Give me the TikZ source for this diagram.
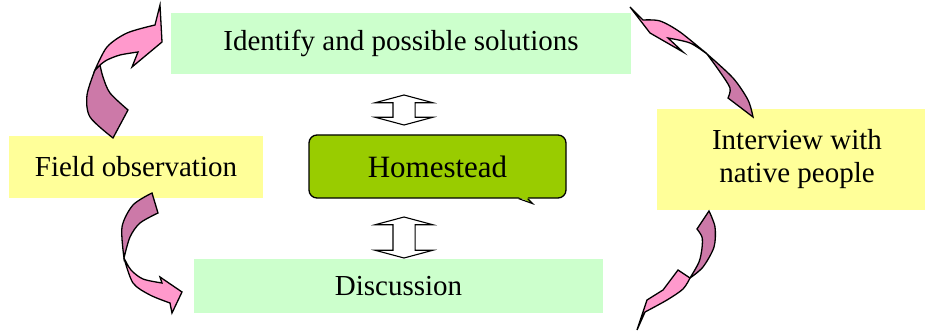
\documentclass[tikz,border=0pt]{standalone}
\usepackage{fontspec}
\setmainfont{Liberation Serif}
\usetikzlibrary{shapes.arrows,calc,positioning}

\definecolor{mintbox}{HTML}{CCFFCC}
\definecolor{creambox}{HTML}{FFFF99}
\definecolor{homegreen}{HTML}{99CC00}
\definecolor{arrowpink}{HTML}{FF99CC}
\definecolor{arrowplum}{HTML}{CC79A8}

\begin{document}
\begin{tikzpicture}[x=1pt,y=-1pt,
		stagebox/.style={inner sep=0pt, align=center, font=\fontsize{29}{33}\selectfont},
		pinkpart/.style={fill=arrowpink, draw=black, line width=1.3pt},
		plumpart/.style={fill=arrowplum, draw=black, line width=1.3pt},
		updown/.style={double arrow, draw, fill=white, rotate=90, inner xsep=0pt, inner ysep=10.5pt,
			minimum width=0pt, double arrow head extend=18, double arrow tip angle=150,
			line width=1.1pt}]
		
		\useasboundingbox (0,0) rectangle (925,331);
		
		% --- stage boxes ---
		\node[stagebox, fill=mintbox, minimum width=460, minimum height=61] (identify) at (401,43.5) {Identify and possible solutions};
		\node[stagebox, fill=creambox, minimum width=254, minimum height=62] (field) at (136,167) {Field observation};
		\node[stagebox, fill=creambox, minimum width=280, minimum height=101] (interview) at (797,159.5) {Interview with\\native people};
		\node[stagebox, fill=mintbox, minimum width=409, minimum height=54] (discussion) at (398.5,286) {Discussion};
		
		% --- centre callout ---
		\node[draw, fill=homegreen, rounded corners=8, line width=1.3pt, inner sep=0pt,
			minimum width=257, minimum height=63, font=\fontsize{31}{35}\selectfont] (homestead) at (437.5,166.5) {Homestead};
		\fill[homegreen] ($(homestead.south east)+(-48,-1.5)$) -- ++(14,6.5) -- ++(-5,-6.5) -- cycle;
		\draw[line width=1.1pt] ($(homestead.south east)+(-48,0)$) -- ++(14,5) -- ++(-5,-5);
		
		% --- hollow double arrows ---
		\node[updown, minimum height=30] (toparrow) at (404,110) {};
		\node[updown, minimum height=41] (botarrow) at (404,237.5) {};
		
		% ======================================================
		% curved arrows round the cycle
		% ======================================================
		
		% field -> identify
		\filldraw[plumpart] plot[smooth] coordinates {(100,65) (103,77) (110,93) (128,110)}
			-- (113,138) -- plot[smooth] coordinates {(113,138) (90,117) (87,95) (95,70)} -- cycle;
		\filldraw[pinkpart] plot[smooth] coordinates {(95,70) (107,47) (127,33) (155,25)}
			-- (160,5) -- (162,42) -- (132,67) -- (138,52)
			-- plot[smooth] coordinates {(138,52) (120,55) (107,60) (100,65)} -- cycle;
		
		% identify -> interview
		\filldraw[plumpart] plot[smooth] coordinates {(707,54) (733,78) (748,100) (753,117)}
			-- (728,98) -- plot[smooth] coordinates {(728,98) (730,88) (720,72) (707,54)} -- cycle;
		\filldraw[pinkpart] plot[smooth] coordinates {(707,54) (690,43) (668,38)}
			-- (683,52) -- (650,33) -- (630,7) -- (643,20)
			-- plot[smooth] coordinates {(643,20) (660,21) (680,32) (707,54)} -- cycle;
		
		% interview -> discussion
		\filldraw[plumpart] plot[smooth] coordinates {(709,211) (715,227) (714,247) (703,267) (690,278)}
			-- plot[smooth] coordinates {(690,278) (699,262) (702,248) (702,237) (697,229)} -- cycle;
		\filldraw[pinkpart] (690,278) -- (678,270) -- (663,290) -- (647,300) -- (637,330) -- (645,312)
			-- plot[smooth] coordinates {(645,312) (667,300) (683,289) (690,278)} -- cycle;
		
		% field -> discussion
		\filldraw[plumpart] plot[smooth] coordinates {(152,193) (133,205) (122,227) (124,258)}
			-- plot[smooth] coordinates {(124,258) (130,237) (140,223) (158,213)} -- cycle;
		\filldraw[pinkpart] plot[smooth] coordinates {(124,258) (133,283) (150,295) (170,303)}
			-- (172,313) -- (182,292) -- (160,277) -- (162,283)
			-- plot[smooth] coordinates {(162,283) (143,279) (131,270) (124,258)} -- cycle;
		
	\end{tikzpicture}
\end{document}
